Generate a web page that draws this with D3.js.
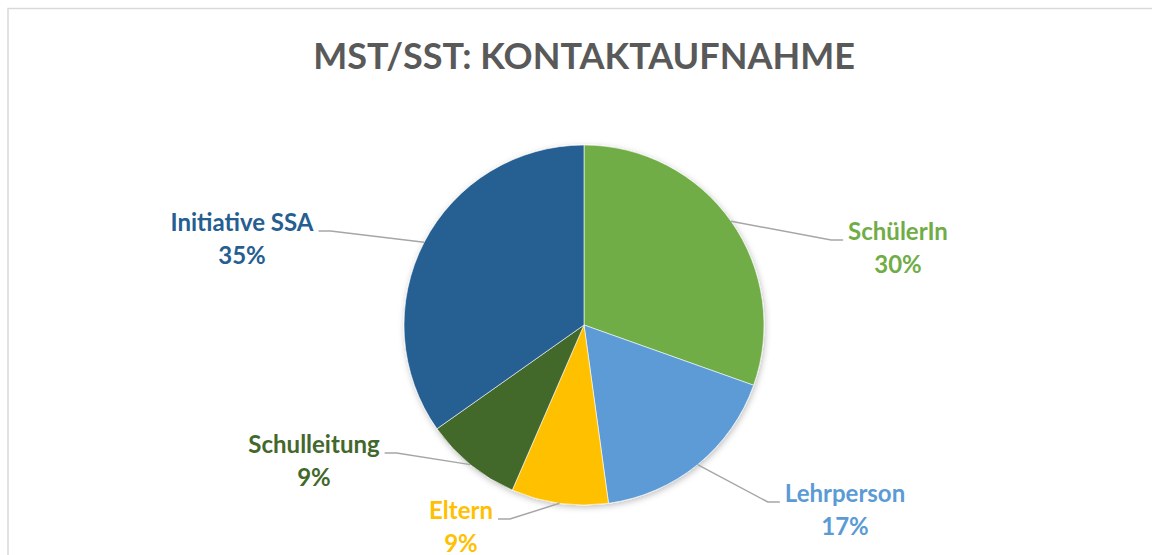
<!DOCTYPE html>
<html>
<head>
<meta charset="utf-8">
<script src="https://cdn.jsdelivr.net/npm/d3@7"></script>
<style>
  html, body { margin: 0; padding: 0; background: #fff; }
  svg { display: block; }
  text { font-family: Lato, "Open Sans", sans-serif; font-weight: bold; }
</style>
</head>
<body>
<svg width="1152" height="555"></svg>
<script>
// data (counts, n = 23)
const categories = ['SchülerIn', 'Lehrperson', 'Eltern', 'Schulleitung', 'Initiative SSA'];
const counts = [7, 4, 2, 2, 8];
const colors = ['#70AD47', '#5B9BD5', '#FFC000', '#43682B', '#255E91'];
const title = 'MST/SST: KONTAKTAUFNAHME';

// label placement (offset of first text line from pie centre), side of leader
const labelPos = [
      { dx: 314, dy: -85, side: 'right' },
      { dx: 261, dy: 177, side: 'right' },
      { dx: -123, dy: 194, side: 'left' },
      { dx: -270, dy: 128, side: 'left' },
      { dx: -342, dy: -94, side: 'left' }
];

const width = 1152, height = 555;
const cx = 584, cy = 325, radius = 180;
const total = d3.sum(counts);

const svg = d3.select('svg');

const defs = svg.append('defs');
defs.append('filter')
      .attr('id', 'shadow')
      .attr('x', '-20%').attr('y', '-20%')
      .attr('width', '140%').attr('height', '140%')
      .append('feDropShadow')
      .attr('dx', 1).attr('dy', 2)
      .attr('stdDeviation', 3)
      .attr('flood-color', '#000')
      .attr('flood-opacity', 0.25);

// chart area border
svg.append('rect')
      .attr('x', 8).attr('y', 8.5)
      .attr('width', width + 10).attr('height', height + 10)
      .attr('fill', 'none')
      .attr('stroke', '#D9D9D9')
      .attr('stroke-width', 1.5);

svg.append('text')
      .attr('x', cx)
      .attr('y', 69)
      .attr('text-anchor', 'middle')
      .attr('fill', '#595959')
      .style('font-size', '36px')
      .text(title);

const pie = d3.pie().sort(null).value(d => d);
const arcs = pie(counts);
const arc = d3.arc().innerRadius(0).outerRadius(radius);

const g = svg.append('g').attr('transform', `translate(${cx},${cy})`);

g.append('g')
      .attr('filter', 'url(#shadow)')
      .selectAll('path')
      .data(arcs)
      .enter()
      .append('path')
      .attr('d', arc)
      .attr('fill', (d, i) => colors[i])
      .attr('stroke', '#fff')
      .attr('stroke-width', 0.6);

const labels = g.selectAll('g.label')
      .data(arcs)
      .enter()
      .append('g')
      .attr('class', 'label');

labels.each(function (d, i) {
      const sel = d3.select(this);
      const p = labelPos[i];
      const t = sel.append('text')
            .attr('x', p.dx)
            .attr('y', p.dy)
            .attr('text-anchor', 'middle')
            .attr('fill', colors[i])
            .style('font-size', '24px');
      t.append('tspan').attr('x', p.dx).attr('dy', 0).text(categories[i]);
      t.append('tspan').attr('x', p.dx).attr('dy', 33)
            .text(Math.round(counts[i] / total * 100) + '%');

      const w = t.select('tspan').node().getComputedTextLength();
      const mid = (d.startAngle + d.endAngle) / 2;
      const ax = Math.sin(mid) * radius;
      const ay = -Math.cos(mid) * radius;
      const ly = p.dy;
      let x1, x2;
      if (p.side === 'right') {
            x1 = p.dx - w / 2 - 5;
            x2 = x1 - 12;
      } else {
            x1 = p.dx + w / 2 + 5;
            x2 = x1 + 12;
      }
      sel.insert('polyline', 'text')
            .attr('points', [[x1, ly], [x2, ly], [ax, ay]].map(q => q.join(',')).join(' '))
            .attr('fill', 'none')
            .attr('stroke', '#A6A6A6')
            .attr('stroke-width', 1.5);
});
</script>
</body>
</html>
